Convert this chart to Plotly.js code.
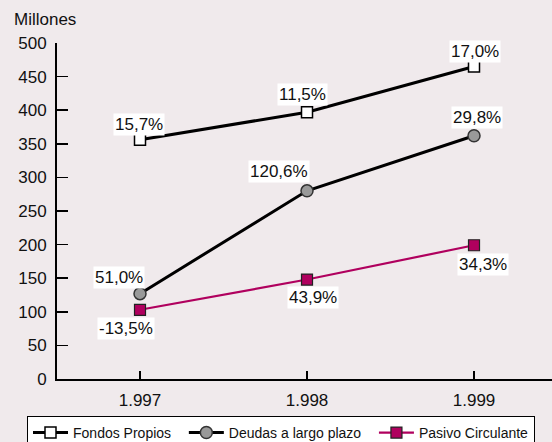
<!DOCTYPE html>
<html>
<head>
<meta charset="utf-8">
<script src="https://cdn.plot.ly/plotly-3.0.1.min.js"></script>
<style>
html,body{margin:0;padding:0;background:#f0eaec;}
#chart{width:552px;height:442px;}
</style>
</head>
<body>
<div id="chart"></div>
<script>
// Data
var years = [1997, 1998, 1999];
var yearLabels = ["1.997", "1.998", "1.999"];
var fondosPropios = [356, 397, 465];
var deudasLargoPlazo = [127, 280, 362];
var pasivoCirculante = [103, 148, 199];
var fondosLabels = ["15,7%", "11,5%", "17,0%"];
var deudasLabels = ["51,0%", "120,6%", "29,8%"];
var pasivoLabels = ["-13,5%", "43,9%", "34,3%"];
var seriesNames = ["Fondos Propios", "Deudas a largo plazo", "Pasivo Circulante"];

// Label offsets (pixels) - styling
var fondosShift = [[-1, 15], [-5, 18], [1, 15]];
var deudasShift = [[-21, 16], [-28, 19], [3, 18]];
var pasivoShift = [[-14, -19], [6, -18], [9, -19]];

var FONT = "Liberation Sans, Arial, sans-serif";
var magenta = "#b0005e";
var PAD = "\u00a0\u00a0";

var traces = [
  {
    x: years, y: fondosPropios, name: seriesNames[0] + PAD, type: "scatter", mode: "lines+markers",
    line: {color: "#000", width: 3},
    marker: {symbol: "square", size: 11, color: "#fff", line: {color: "#000", width: 1.5}}
  },
  {
    x: years, y: deudasLargoPlazo, name: seriesNames[1] + PAD, type: "scatter", mode: "lines+markers",
    line: {color: "#000", width: 3},
    marker: {symbol: "circle", size: 12, color: "#999", line: {color: "#333", width: 1.5}}
  },
  {
    x: years, y: pasivoCirculante, name: seriesNames[2], type: "scatter", mode: "lines+markers",
    line: {color: magenta, width: 2.2},
    marker: {symbol: "square", size: 11, color: magenta, line: {color: "#222", width: 1.2}}
  }
];

var annotations = [];
function addLabels(vals, labels, shifts) {
  for (var i = 0; i < years.length; i++) {
    annotations.push({
      x: years[i], y: vals[i], xref: "x", yref: "y", text: labels[i],
      showarrow: false, xshift: shifts[i][0], yshift: shifts[i][1],
      bgcolor: "#fff", borderpad: 1,
      font: {family: FONT, size: 17, color: "#111"}
    });
  }
}
addLabels(fondosPropios, fondosLabels, fondosShift);
addLabels(deudasLargoPlazo, deudasLabels, deudasShift);
addLabels(pasivoCirculante, pasivoLabels, pasivoShift);

annotations.push({
  xref: "paper", yref: "paper", x: -0.091, y: 1.0, yshift: 24,
  xanchor: "left", yanchor: "middle", showarrow: false,
  text: "Millones", font: {family: FONT, size: 17, color: "#111"}
});

var layout = {
  width: 552, height: 442,
  paper_bgcolor: "#f0eaec", plot_bgcolor: "#f0eaec",
  margin: {l: 57, r: 0, t: 43, b: 63, autoexpand: false},
  showlegend: true,
  font: {family: FONT, size: 17, color: "#111"},
  xaxis: {
    range: [1996.503, 1999.467],
    tickvals: years, ticktext: yearLabels,
    ticks: "inside", ticklen: 8, tickwidth: 1.5, tickcolor: "#000",
    showline: true, linecolor: "#000", linewidth: 2,
    showgrid: false, zeroline: false,
    ticklabelstandoff: 5,
    tickfont: {family: FONT, size: 17, color: "#111"}
  },
  yaxis: {
    range: [0, 500], dtick: 50, tick0: 0,
    ticks: "inside", ticklen: 11, tickwidth: 1.5, tickcolor: "#000",
    showline: true, linecolor: "#000", linewidth: 2,
    showgrid: false, zeroline: false,
    ticklabelstandoff: 5,
    tickfont: {family: FONT, size: 17, color: "#111"}
  },
  legend: {
    orientation: "h",
    x: -0.0606, xanchor: "left",
    y: -0.110, yanchor: "top",
    bgcolor: "#fff", bordercolor: "#000", borderwidth: 1,
    font: {family: FONT, size: 14, color: "#111"},
    itemwidth: 35
  },
  annotations: annotations
};

Plotly.newPlot("chart", traces, layout, {displayModeBar: false, staticPlot: true});
</script>
</body>
</html>
